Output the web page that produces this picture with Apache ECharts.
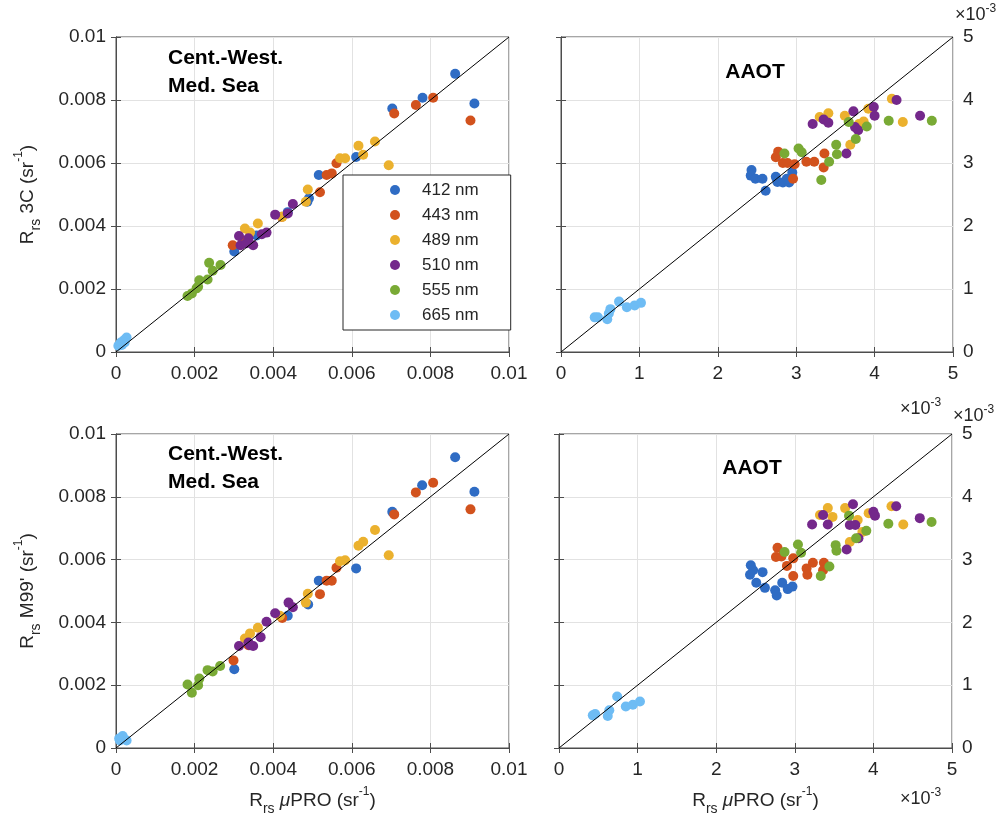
<!DOCTYPE html>
<html><head><meta charset="utf-8">
<script src="https://cdn.jsdelivr.net/npm/echarts@6/dist/echarts.min.js"></script>
<style>html,body{margin:0;padding:0;background:#fff}#c{width:1008px;height:825px}</style>
</head><body><div id="c"></div>
<script>
// ---------- DATA (all values in units of 1e-3 sr^-1; pairs are [Rrs μPRO, Rrs other]) ----------
const wavelengths = ['412 nm', '443 nm', '489 nm', '510 nm', '555 nm', '665 nm'];
const colors = ['#2f6cc4', '#d2521d', '#ebb12e', '#74288b', '#79aa35', '#6ebcf4'];

const leftTickLabels = ['0', '0.002', '0.004', '0.006', '0.008', '0.01'];
const rightTickLabels = ['0', '1', '2', '3', '4', '5'];

// Top-left: Cent.-West. Med. Sea, 3C
const cw3C_412 = [[8.63,8.83],[7.80,8.07],[7.03,7.73],[9.12,7.89],[6.11,6.19],[5.16,5.62],[4.91,4.88],[4.87,4.77],[4.37,4.44],[3.01,3.19],[3.58,3.70]];
const cw3C_443 = [[8.07,8.07],[7.63,7.84],[7.08,7.57],[9.02,7.35],[5.61,5.99],[5.49,5.67],[5.36,5.62],[5.19,5.07],[4.22,4.29],[2.97,3.39],[3.24,3.53]];
const cw3C_489 = [[6.59,6.68],[6.17,6.55],[6.29,6.26],[5.70,6.15],[5.83,6.15],[6.94,5.93],[4.88,5.16],[4.83,4.77],[4.23,4.29],[3.61,4.08],[3.28,3.92],[3.41,3.79]];
const cw3C_510 = [[4.50,4.70],[4.05,4.36],[4.37,4.40],[3.83,3.79],[3.71,3.74],[3.13,3.68],[3.37,3.61],[3.17,3.39],[3.49,3.39],[3.32,3.45]];
const cw3C_555 = [[1.82,1.78],[1.93,1.86],[2.09,2.07],[2.12,2.28],[2.33,2.30],[2.37,2.83],[2.46,2.58],[2.66,2.76],[2.05,2.02]];
const cw3C_665 = [[0.06,0.20],[0.12,0.30],[0.20,0.37],[0.27,0.46],[0.15,0.22],[0.22,0.30]];

// Top-right: AAOT, 3C
const aa3C_412 = [[2.43,2.89],[2.42,2.80],[2.48,2.75],[2.57,2.75],[2.61,2.56],[2.74,2.78],[2.76,2.70],[2.83,2.69],[2.91,2.69],[2.95,2.85],[2.88,2.75]];
const aa3C_443 = [[2.77,3.18],[2.74,3.09],[2.83,3.00],[2.89,3.00],[2.98,2.98],[2.96,2.75],[3.13,3.02],[3.23,3.02],[3.36,3.15],[3.35,2.93]];
const aa3C_489 = [[3.30,3.73],[3.41,3.79],[3.62,3.75],[3.69,3.29],[3.86,3.66],[3.80,3.62],[3.92,3.86],[4.22,4.02],[4.36,3.65]];
const aa3C_510 = [[3.21,3.62],[3.35,3.69],[3.41,3.64],[3.73,3.82],[3.75,3.57],[3.79,3.52],[3.64,3.15],[3.99,3.89],[4.00,3.75],[4.28,4.00],[4.58,3.75]];
const aa3C_555 = [[2.85,3.15],[3.03,3.23],[3.07,3.17],[3.32,2.73],[3.42,3.02],[3.51,3.29],[3.52,3.14],[3.76,3.38],[3.90,3.58],[3.67,3.65],[4.18,3.67],[4.73,3.67]];
const aa3C_665 = [[0.43,0.55],[0.47,0.55],[0.59,0.52],[0.61,0.61],[0.63,0.68],[0.74,0.80],[0.84,0.71],[0.94,0.74],[1.02,0.78]];

// Bottom-left: Cent.-West. Med. Sea, M99'
const cwM99_412 = [[8.63,9.26],[7.79,8.37],[9.12,8.16],[7.03,7.52],[6.11,5.72],[5.16,5.33],[4.89,4.57],[4.37,4.21],[3.01,2.51]];
const cwM99_443 = [[8.07,8.45],[7.63,8.14],[7.08,7.44],[9.02,7.60],[5.61,5.74],[5.49,5.33],[5.36,5.33],[5.19,4.90],[4.23,4.14],[2.99,2.79],[3.37,3.27]];
const cwM99_489 = [[6.59,6.94],[6.17,6.44],[6.29,6.57],[5.70,5.95],[5.83,5.98],[6.94,6.14],[4.88,4.91],[4.83,4.63],[4.17,4.21],[3.61,3.83],[3.41,3.65],[3.28,3.49]];
const cwM99_510 = [[4.39,4.63],[4.50,4.48],[4.05,4.29],[3.83,4.02],[3.68,3.53],[3.13,3.25],[3.37,3.36],[3.49,3.25],[3.41,3.27]];
const cwM99_555 = [[1.82,2.02],[1.93,1.76],[2.09,2.00],[2.12,2.21],[2.33,2.48],[2.46,2.44],[2.65,2.61]];
const cwM99_665 = [[0.10,0.24],[0.19,0.30],[0.27,0.24],[0.17,0.38],[0.08,0.30]];

// Bottom-right: AAOT, M99'
const aaM99_412 = [[2.44,2.91],[2.47,2.83],[2.43,2.76],[2.59,2.80],[2.51,2.63],[2.62,2.55],[2.75,2.51],[2.77,2.43],[2.84,2.63],[2.91,2.53],[2.97,2.57]];
const aaM99_443 = [[2.78,3.19],[2.76,3.04],[2.83,3.05],[2.90,2.90],[2.98,3.02],[2.98,2.74],[3.15,2.86],[3.16,2.76],[3.23,2.95],[3.37,2.95],[3.36,2.83]];
const aaM99_489 = [[3.32,3.71],[3.42,3.82],[3.48,3.68],[3.64,3.82],[3.70,3.28],[3.80,3.63],[3.86,3.44],[3.94,3.74],[4.23,3.85],[4.38,3.56]];
const aaM99_510 = [[3.22,3.56],[3.36,3.71],[3.42,3.56],[3.74,3.88],[3.70,3.55],[3.77,3.55],[3.81,3.34],[3.66,3.16],[4.00,3.76],[4.02,3.70],[4.29,3.85],[4.59,3.66]];
const aaM99_555 = [[2.87,3.12],[3.04,3.24],[3.08,3.11],[3.33,2.74],[3.44,2.89],[3.52,3.23],[3.53,3.14],[3.69,3.70],[3.78,3.34],[3.91,3.46],[4.19,3.57],[4.74,3.60]];
const aaM99_665 = [[0.46,0.54],[0.43,0.52],[0.62,0.51],[0.64,0.60],[0.74,0.82],[0.85,0.66],[0.94,0.69],[1.03,0.74]];

// ---------- CHART ----------
const FONT = "'Liberation Sans', Arial, Helvetica, sans-serif";
const TXT = '#262626';
const AX = '#4d4d4d';

const panels = [
  { grid: {left:116, top:37, width:393, height:315}, max:10, interval:2, labels:leftTickLabels, yPos:'left',
    sets:[cw3C_412,cw3C_443,cw3C_489,cw3C_510,cw3C_555,cw3C_665], yName:'R{sub|rs} 3C (sr{sup|-1})', xName:null },
  { grid: {left:561, top:37, width:392, height:315}, max:5, interval:1, labels:rightTickLabels, yPos:'right',
    sets:[aa3C_412,aa3C_443,aa3C_489,aa3C_510,aa3C_555,aa3C_665], yName:null, xName:null },
  { grid: {left:116, top:434, width:393, height:314}, max:10, interval:2, labels:leftTickLabels, yPos:'left',
    sets:[cwM99_412,cwM99_443,cwM99_489,cwM99_510,cwM99_555,cwM99_665], yName:"R{sub|rs} M99' (sr{sup|-1})", xName:'R{sub|rs} {it|μ}PRO (sr{sup|-1})' },
  { grid: {left:559, top:434, width:393, height:314}, max:5, interval:1, labels:rightTickLabels, yPos:'right',
    sets:[aaM99_412,aaM99_443,aaM99_489,aaM99_510,aaM99_555,aaM99_665], yName:null, xName:'R{sub|rs} {it|μ}PRO (sr{sup|-1})' }
];

const nameStyle = {
  fontSize: 19, color: TXT, fontFamily: FONT, lineHeight: 30,
  rich: {
    sub: {fontSize: 14, color: TXT, fontFamily: FONT, verticalAlign: 'bottom', lineHeight: 14},
    sup: {fontSize: 12, color: TXT, fontFamily: FONT, verticalAlign: 'top', lineHeight: 12},
    it: {fontSize: 19, color: TXT, fontFamily: FONT, fontStyle: 'italic', lineHeight: 30}
  }
};

const grids = [], xAxes = [], yAxes = [], series = [];
panels.forEach((p, g) => {
  grids.push(Object.assign({show: true, borderColor: AX, borderWidth: 1, backgroundColor: '#fff'}, p.grid));
  const fmt = v => p.labels[Math.round(v / p.interval)] ?? '';
  const base = (extra) => Object.assign({
    type: 'value', gridIndex: g, min: 0, max: p.max, interval: p.interval,
    axisLine: {show: true, lineStyle: {color: AX, width: 1}},
    axisTick: {show: true, inside: true, length: 5, lineStyle: {color: AX, width: 1}},
    splitLine: {show: false}
  }, extra);
  xAxes.push(base({
    position: 'bottom',
    axisLabel: {show: true, formatter: fmt, fontSize: 19, color: TXT, fontFamily: FONT, margin: 12, showMinLabel: true, showMaxLabel: true},
    splitLine: {show: true, lineStyle: {color: '#e2e2e2', width: 1}},
    name: p.xName || '', nameLocation: 'middle', nameGap: 38, nameTextStyle: nameStyle
  }));
  xAxes.push(base({position: 'top', axisLabel: {show: false}}));
  yAxes.push(base({
    position: p.yPos,
    axisLabel: {show: true, formatter: fmt, fontSize: 19, color: TXT, fontFamily: FONT, margin: 10, showMinLabel: true, showMaxLabel: true},
    splitLine: {show: true, lineStyle: {color: '#e2e2e2', width: 1}},
    name: p.yName || '', nameLocation: 'middle', nameGap: 73, nameRotate: 90, nameTextStyle: nameStyle
  }));
  yAxes.push(base({position: p.yPos === 'left' ? 'right' : 'left', axisLabel: {show: false}}));

  p.sets.forEach((data, i) => {
    series.push({
      type: 'scatter', name: wavelengths[i], xAxisIndex: 2*g, yAxisIndex: 2*g,
      data: data, symbol: 'circle', symbolSize: 10,
      itemStyle: {color: colors[i], opacity: 1}, emphasis: {disabled: true}, z: 2
    });
  });
  series.push({
    type: 'line', name: '1:1', xAxisIndex: 2*g, yAxisIndex: 2*g,
    data: [[0, 0], [p.max, p.max]], symbol: 'none', silent: true,
    lineStyle: {color: '#000', width: 1}, z: 3
  });
});

const expRich = {sup: {fontSize: 12, fill: TXT, fontFamily: FONT, verticalAlign: 'top', lineHeight: 12}};
const expText = (x, y) => ({
  type: 'text', x: x, y: y, z: 10,
  style: {text: '×10{sup|-3}', fontSize: 18, fontFamily: FONT, fill: TXT, verticalAlign: 'middle', lineHeight: 24, rich: expRich}
});

const option = {
  animation: false,
  backgroundColor: '#fff',
  legend: {
    data: wavelengths, orient: 'vertical', left: 343, top: 175,
    icon: 'circle', itemWidth: 44, itemHeight: 10, itemGap: 5,
    padding: [5, 32, 5, 47],
    borderColor: TXT, borderWidth: 1, backgroundColor: '#fff',
    textStyle: {fontSize: 17, color: TXT, fontFamily: FONT, lineHeight: 20},
    selectedMode: false, z: 20
  },
  grid: grids, xAxis: xAxes, yAxis: yAxes, series: series,
  graphic: [
    {type: 'text', x: 168, y: 44, z: 10, style: {text: 'Cent.-West.\nMed. Sea', fontSize: 21, fontWeight: 'bold', fontFamily: FONT, fill: '#000', lineHeight: 28}},
    {type: 'text', x: 168, y: 440, z: 10, style: {text: 'Cent.-West.\nMed. Sea', fontSize: 21, fontWeight: 'bold', fontFamily: FONT, fill: '#000', lineHeight: 28}},
    {type: 'text', x: 755, y: 72, z: 10, style: {text: 'AAOT', fontSize: 21, fontWeight: 'bold', fontFamily: FONT, fill: '#000', align: 'center', verticalAlign: 'middle'}},
    {type: 'text', x: 752, y: 468, z: 10, style: {text: 'AAOT', fontSize: 21, fontWeight: 'bold', fontFamily: FONT, fill: '#000', align: 'center', verticalAlign: 'middle'}},
    expText(955, 15),
    expText(900, 409),
    expText(953, 416),
    expText(900, 799)
  ]
};

const chart = echarts.init(document.getElementById('c'));
chart.setOption(option);
</script></body></html>
